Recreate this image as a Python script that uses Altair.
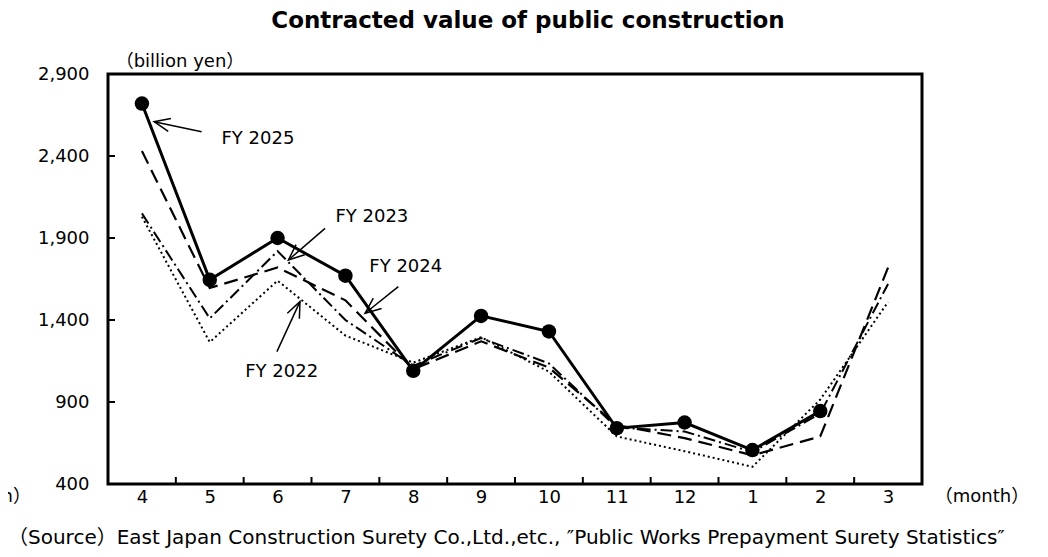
import math
import altair as alt
import pandas as pd

# ---------------- data ----------------
months = ["4", "5", "6", "7", "8", "9", "10", "11", "12", "1", "2", "3"]
fy2025 = [2720, 1645, 1900, 1670, 1090, 1425, 1330, 740, 775, 607, 845, None]
fy2024 = [2430, 1595, 1720, 1520, 1100, 1270, 1110, 760, 680, 575, 690, 1720]
fy2023 = [2050, 1410, 1820, 1400, 1120, 1290, 1135, 745, 720, 595, 830, 1620]
fy2022 = [2030, 1265, 1640, 1305, 1140, 1295, 1085, 690, 600, 505, 915, 1510]
y_ticks = [400, 900, 1400, 1900, 2400, 2900]

# annotation labels: text position and arrow (start -> tip) in data coordinates (month index, value)
ann_text = ["FY 2025", "FY 2023", "FY 2024", "FY 2022"]
ann_text_idx = [1.71, 3.39, 3.89, 2.06]
ann_text_val = [2504, 2030, 1725, 1085]
ann_from_idx = [0.88, 2.70, 3.78, 1.99]
ann_from_val = [2548, 1959, 1603, 1207]
ann_tip_idx = [0.18, 2.16, 3.29, 2.33]
ann_tip_val = [2609, 1766, 1441, 1512]

title_text = "Contracted value of public construction"
unit_text = "（billion yen）"
month_text = "（month）"
source_text = "（Source）East Japan Construction Surety Co.,Ltd.,etc., \u2033Public Works Prepayment Surety Statistics\u2033"

# ---------------- layout ----------------
W, H = 814, 410
Y_MIN, Y_MAX = 400, 2900
FONT = "DejaVu Sans, Noto Sans CJK JP"
FS = 18

rows = []
for name, vals in [("FY 2025", fy2025), ("FY 2024", fy2024), ("FY 2023", fy2023), ("FY 2022", fy2022)]:
    for i, (m, v) in enumerate(zip(months, vals)):
        if v is not None:
            rows.append({"idx": i, "month": m, "value": v, "series": name})
df = pd.DataFrame(rows)

x_scale = alt.Scale(domain=[-0.5, len(months) - 0.5], nice=False, zero=False)
y_scale = alt.Scale(domain=[Y_MIN, Y_MAX], nice=False, zero=False)
label_expr = "[" + ",".join("'%s'" % m for m in months) + "][datum.value]"

x_axis = alt.Axis(values=list(range(len(months))), labelExpr=label_expr, title=None,
                  domain=False, ticks=False, grid=False, labelFontSize=FS,
                  labelPadding=4, labelFont=FONT, labelColor="black")
y_axis = alt.Axis(values=y_ticks, format=",d", title=None, domain=False, ticks=False,
                  grid=False, labelFontSize=FS, labelPadding=19, labelFont=FONT,
                  labelColor="black")


def X(field):
    return alt.X(field, scale=x_scale, axis=x_axis, title=None)


def Y(field):
    return alt.Y(field, scale=y_scale, axis=y_axis, title=None)


base = alt.Chart(df)


def series_line(name, dash, width):
    kw = dict(color="black", strokeWidth=width)
    if dash:
        kw["strokeDash"] = dash
    return base.transform_filter(alt.datum.series == name).mark_line(**kw).encode(
        x=X("idx:Q"), y=Y("value:Q"))


l22 = series_line("FY 2022", [2, 3], 2)
l23 = series_line("FY 2023", [12, 4, 2, 4], 2)
l24 = series_line("FY 2024", [14, 7], 2.2)
l25 = series_line("FY 2025", None, 3)
p25 = base.transform_filter(alt.datum.series == "FY 2025").mark_circle(
    color="black", size=210, opacity=1).encode(x=X("idx:Q"), y=Y("value:Q"))

# inner tick marks
ytick_df = pd.DataFrame({"value": y_ticks[1:-1]})
yticks = alt.Chart(ytick_df).mark_rule(color="black", strokeWidth=2).encode(
    y=Y("value:Q"), x=alt.value(0), x2=alt.value(7))
xtick_df = pd.DataFrame({"idx": [i + 0.5 for i in range(len(months) - 1)]})
xticks = alt.Chart(xtick_df).mark_rule(color="black", strokeWidth=2).encode(
    x=X("idx:Q"), y=alt.value(H), y2=alt.value(H - 7))

# annotations
ann_rows = []
px_per_idx = W / len(months)
px_per_val = H / (Y_MAX - Y_MIN)
for t, tx, tv, fx, fv, kx, kv in zip(ann_text, ann_text_idx, ann_text_val, ann_from_idx,
                                     ann_from_val, ann_tip_idx, ann_tip_val):
    dx = (kx - fx) * px_per_idx
    dy = -(kv - fv) * px_per_val
    ang = math.degrees(math.atan2(dy, dx)) % 360
    ann_rows.append({"text": t, "tidx": tx, "tval": tv, "fidx": fx, "fval": fv,
                     "idx": kx, "value": kv, "angle": ang})
ann_df = pd.DataFrame(ann_rows)

ann_labels = alt.Chart(ann_df).mark_text(font=FONT, fontSize=FS, color="black",
                                         align="center", baseline="middle").encode(
    x=X("tidx:Q"), y=Y("tval:Q"), text="text:N")
ann_shafts = alt.Chart(ann_df).mark_rule(color="black", strokeWidth=1.5).encode(
    x=X("fidx:Q"), y=Y("fval:Q"), x2="idx:Q", y2="value:Q")
chevron = "M -1 -0.42 L 0 0 L -1 0.42"
ann_heads = alt.Chart(ann_df).mark_point(shape=chevron, filled=False, color="black",
                                         strokeWidth=1.5, size=1000, opacity=1).encode(
    x=X("idx:Q"), y=Y("value:Q"), angle=alt.Angle("angle:Q", scale=None))

# fixed texts
one = pd.DataFrame({"k": [0]})
title = alt.Chart(one).mark_text(text=title_text, font=FONT, fontSize=23, fontWeight="bold",
                                 color="black", align="center", baseline="middle").encode(
    x=alt.value(420), y=alt.value(-53))
unit = alt.Chart(one).mark_text(text=unit_text, font=FONT, fontSize=FS, color="black",
                                align="center", baseline="middle").encode(
    x=alt.value(72), y=alt.value(-12))
month_r = alt.Chart(one).mark_text(text=month_text, font=FONT, fontSize=FS, color="black",
                                   align="center", baseline="middle").encode(
    x=alt.value(874), y=alt.value(H + 13))
month_l = alt.Chart(one).mark_text(text=month_text, font=FONT, fontSize=FS, color="black",
                                   align="right", baseline="middle").encode(
    x=alt.value(-77), y=alt.value(H + 13))
source = alt.Chart(one).mark_text(text=source_text, font=FONT, fontSize=20, color="black",
                                  align="left", baseline="middle").encode(
    x=alt.value(-100), y=alt.value(H + 54))

chart = alt.layer(
    l22, l23, l24, l25, p25, yticks, xticks, ann_shafts, ann_heads, ann_labels,
    title, unit, month_r, month_l, source
).properties(
    width=W, height=H,
    autosize=alt.AutoSizeParams(type="none"),
    padding={"left": 100, "top": 66, "right": 118, "bottom": 64},
    background="white",
).configure_view(stroke="black", strokeWidth=3)

chart.save("out.html", embed_options={"renderer": "svg", "actions": False})
